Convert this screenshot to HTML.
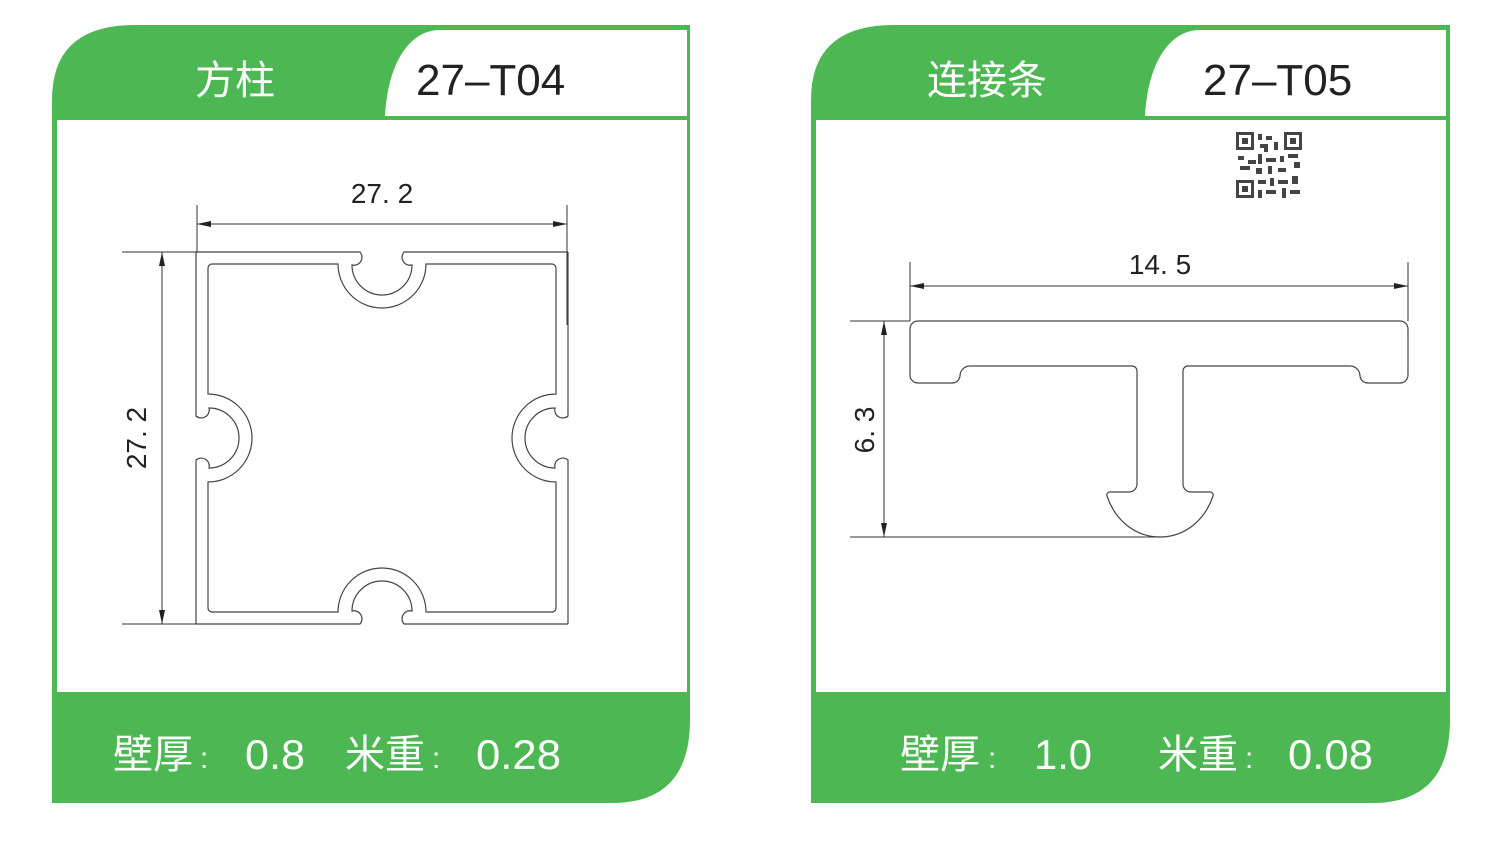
<!DOCTYPE html>
<html><head><meta charset="utf-8"><style>
html,body{margin:0;padding:0;background:#fff;}
svg{display:block;}
.hd{font-family:"Liberation Sans","Noto Sans CJK SC",sans-serif;}
</style></head><body>
<svg width="1500" height="845" viewBox="0 0 1500 845" xmlns="http://www.w3.org/2000/svg">
<defs>
<marker id="ar" viewBox="0 0 14 6" refX="14" refY="3" markerWidth="14" markerHeight="6" orient="auto-start-reverse" markerUnits="userSpaceOnUse"><path d="M0,0 L14,3 L0,6 Z" fill="#222"/></marker>
<g id="side" fill="none" stroke="#444" stroke-width="1.2">
<path d="M-186,-186 H-22 A8,8 0 0 1 -30,-173 A30,30 0 0 0 30,-173 A8,8 0 0 1 22,-186 H186"/>
<path d="M-170,-174 H-44 A44,44 0 0 0 44,-174 H170 A4,4 0 0 1 174,-170"/>
</g>
</defs>

<!-- Panel 1 -->
<g>
<path d="M52,100 Q52,25 135,25 H690 V720 Q690,803 612,803 H52 Z" fill="#4db853"/>
<rect x="57" y="120" width="630" height="572" fill="#fff"/>
<path d="M385,116 C388,62 410,30 440,30 H687 V116 Z" fill="#fff"/>
<text x="235" y="94" text-anchor="middle" class="hd" font-size="40" fill="#fff">方柱</text>
<text x="416" y="95" class="hd" font-size="44" fill="#222">27–T04</text>
<g class="hd" fill="#fff">
<text x="113" y="768" font-size="40">壁厚</text>
<text x="200" y="768" font-size="30">:</text>
<text x="245" y="769" font-size="42" textLength="60" lengthAdjust="spacingAndGlyphs">0.8</text>
<text x="345" y="768" font-size="40">米重</text>
<text x="432" y="768" font-size="30">:</text>
<text x="476" y="769" font-size="42" textLength="85" lengthAdjust="spacingAndGlyphs">0.28</text>
</g>
</g>

<!-- Profile 1 -->
<g transform="translate(382,438)">
<use href="#side"/>
<use href="#side" transform="rotate(90)"/>
<use href="#side" transform="rotate(180)"/>
<use href="#side" transform="rotate(270)"/>
</g>
<g stroke="#333" stroke-width="1" fill="none">
<line x1="197" y1="205" x2="197" y2="252"/>
<line x1="567" y1="205" x2="567" y2="325"/>
<line x1="197" y1="224" x2="567" y2="224" marker-start="url(#ar)" marker-end="url(#ar)"/>
<line x1="122" y1="252" x2="197" y2="252"/>
<line x1="122" y1="624" x2="197" y2="624"/>
<line x1="162" y1="252" x2="162" y2="624" marker-start="url(#ar)" marker-end="url(#ar)"/>
</g>
<text x="382" y="203" text-anchor="middle" class="hd" font-size="28" fill="#222">27. 2</text>
<text transform="translate(146,438) rotate(-90)" text-anchor="middle" class="hd" font-size="28" fill="#222">27. 2</text>

<!-- Panel 2 -->
<g>
<path d="M811,100 Q811,25 894,25 H1450 V720 Q1450,803 1372,803 H811 Z" fill="#4db853"/>
<rect x="816" y="120" width="630" height="572" fill="#fff"/>
<path d="M1145,116 C1148,62 1170,30 1200,30 H1446 V116 Z" fill="#fff"/>
<text x="987" y="94" text-anchor="middle" class="hd" font-size="40" fill="#fff">连接条</text>
<text x="1203" y="95" class="hd" font-size="44" fill="#222">27–T05</text>
<g class="hd" fill="#fff">
<text x="900" y="768" font-size="40">壁厚</text>
<text x="988" y="768" font-size="30">:</text>
<text x="1034" y="769" font-size="42" textLength="58" lengthAdjust="spacingAndGlyphs">1.0</text>
<text x="1158" y="768" font-size="40">米重</text>
<text x="1245" y="768" font-size="30">:</text>
<text x="1288" y="769" font-size="42" textLength="85" lengthAdjust="spacingAndGlyphs">0.08</text>
</g>
</g>

<!-- QR -->
<g fill="#444">
<rect x="1236" y="132" width="66" height="66" fill="#fff"/>
<rect x="1236" y="132" width="18" height="18"/><rect x="1239" y="135" width="12" height="12" fill="#fff"/><rect x="1242" y="138" width="6" height="6"/>
<rect x="1284" y="132" width="18" height="18"/><rect x="1287" y="135" width="12" height="12" fill="#fff"/><rect x="1290" y="138" width="6" height="6"/>
<rect x="1236" y="180" width="18" height="18"/><rect x="1239" y="183" width="12" height="12" fill="#fff"/><rect x="1242" y="186" width="6" height="6"/>
<rect x="1258" y="134" width="4" height="6"/><rect x="1266" y="136" width="6" height="4"/><rect x="1260" y="144" width="8" height="4"/><rect x="1274" y="142" width="4" height="8"/>
<rect x="1238" y="156" width="6" height="4"/><rect x="1248" y="160" width="8" height="4"/><rect x="1258" y="154" width="4" height="10"/><rect x="1266" y="158" width="10" height="4"/>
<rect x="1280" y="156" width="4" height="6"/><rect x="1288" y="154" width="10" height="4"/><rect x="1294" y="162" width="6" height="6"/><rect x="1240" y="166" width="10" height="4"/>
<rect x="1256" y="168" width="6" height="6"/><rect x="1268" y="166" width="4" height="8"/><rect x="1278" y="168" width="8" height="4"/><rect x="1258" y="180" width="8" height="4"/>
<rect x="1270" y="178" width="4" height="8"/><rect x="1278" y="180" width="10" height="4"/><rect x="1292" y="176" width="6" height="8"/><rect x="1258" y="190" width="4" height="8"/>
<rect x="1266" y="190" width="10" height="4"/><rect x="1282" y="188" width="4" height="10"/><rect x="1290" y="190" width="10" height="4"/><rect x="1264" y="146" width="4" height="6"/>
</g>

<!-- T profile -->
<path fill="none" stroke="#444" stroke-width="1.2" d="M918,321 H1400 A8,8 0 0 1 1408,329 V375 A8,8 0 0 1 1400,383 H1368 A8,8 0 0 1 1360,376 A10,10 0 0 0 1350,366 H1188 A5,5 0 0 0 1183,371 V484 A8,8 0 0 0 1191,492 H1210 A3,3 0 0 1 1213,496 C1205,520 1185,537 1160,537 C1135,537 1115,520 1107,496 A3,3 0 0 1 1110,492 H1129 A8,8 0 0 0 1137,484 V371 A5,5 0 0 0 1132,366 H970 A10,10 0 0 0 960,376 A8,8 0 0 1 952,383 H918 A8,8 0 0 1 910,375 V329 A8,8 0 0 1 918,321 Z"/>
<g stroke="#333" stroke-width="1" fill="none">
<line x1="910" y1="262" x2="910" y2="321"/>
<line x1="1408" y1="262" x2="1408" y2="321"/>
<line x1="910" y1="286" x2="1408" y2="286" marker-start="url(#ar)" marker-end="url(#ar)"/>
<line x1="850" y1="321" x2="910" y2="321"/>
<line x1="850" y1="537" x2="1160" y2="537"/>
<line x1="884" y1="321" x2="884" y2="537" marker-start="url(#ar)" marker-end="url(#ar)"/>
</g>
<text x="1160" y="274" text-anchor="middle" class="hd" font-size="28" fill="#222">14. 5</text>
<text transform="translate(874,430) rotate(-90)" text-anchor="middle" class="hd" font-size="28" fill="#222">6. 3</text>
</svg>
</body></html>
